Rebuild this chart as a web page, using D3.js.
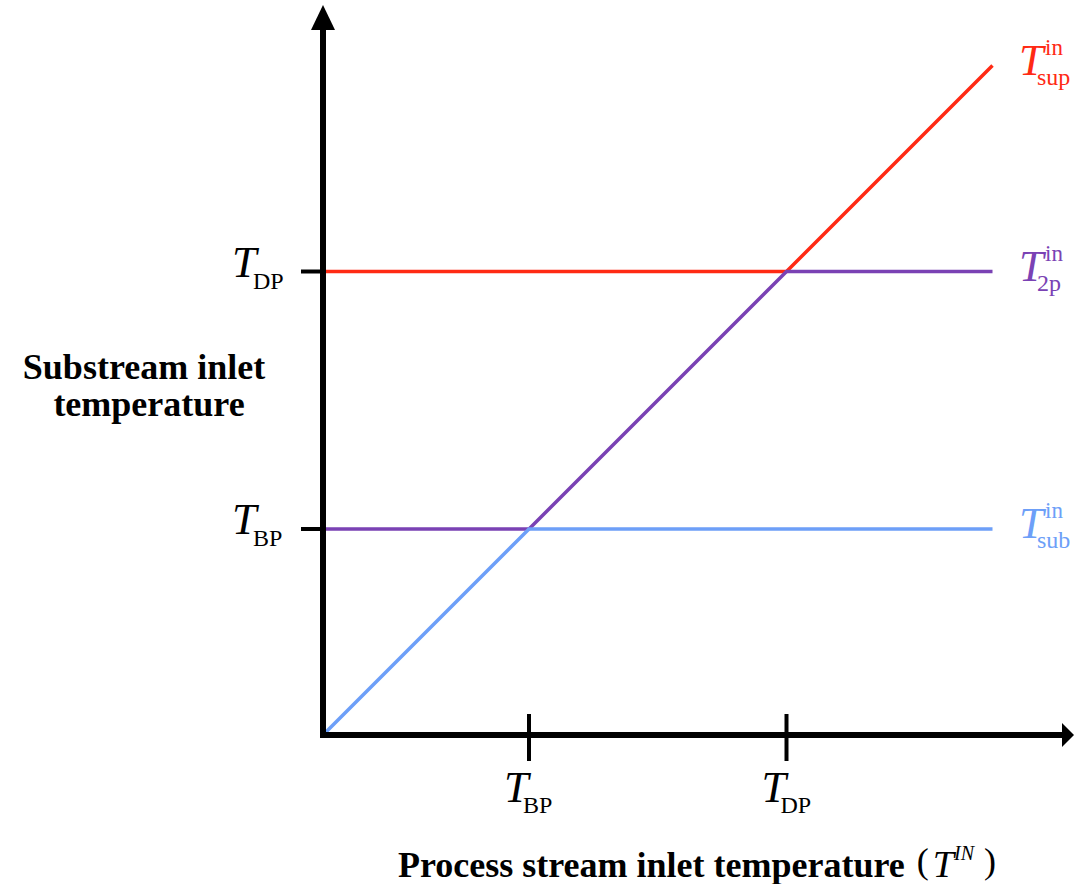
<!DOCTYPE html>
<html>
<head>
<meta charset="utf-8">
<script src="https://cdn.jsdelivr.net/npm/d3@7"></script>
<style>
  body { margin: 0; background: #fff; }
  text { font-family: "Liberation Serif", "Times New Roman", serif; }
</style>
</head>
<body>
<div class="chart"></div>
<script>
// process stream inlet temperature values (arbitrary units), T_BP and T_DP
const tickValues = [40, 90];
const tickNames = ["BP", "DP"];
const xMax = 130;

// substream inlet temperature vs process inlet temperature
const supLine = [[0, 90], [90, 90], [130, 130]];
const twoPLine = [[0, 40], [40, 40], [90, 90], [130, 90]];
const subLine = [[0, 0], [40, 40], [130, 40]];

const seriesNames = ["sup", "2p", "sub"];
const seriesEnds = [130, 90, 40];
const seriesColors = ["#ff2a14", "#7a42b4", "#6d9ff8"];

const width = 1074;
const height = 884;
const svg = d3.select('.chart')
    .append('svg')
    .attr('width', width)
    .attr('height', height);

const x0 = 323, y0 = 735;
const x = d3.scaleLinear().domain([0, xMax]).range([x0, 992.5]);
const y = d3.scaleLinear().domain([0, xMax]).range([y0, 65.5]);

// lines
const line = d3.line().x(d => x(d[0])).y(d => y(d[1]));
[supLine, twoPLine, subLine].forEach((d, i) => {
    svg.append('path')
        .attr('d', line(d))
        .attr('fill', 'none')
        .attr('stroke', seriesColors[i])
        .attr('stroke-width', 3.5);
});

// axes
svg.append('line')
    .attr('x1', x0).attr('y1', y0 + 3)
    .attr('x2', x0).attr('y2', 28)
    .attr('stroke', '#000').attr('stroke-width', 6);
svg.append('path')
    .attr('d', `M${x0 - 12},30 L${x0},5 L${x0 + 12},30 Z`)
    .attr('fill', '#000');
svg.append('line')
    .attr('x1', x0 - 3).attr('y1', y0)
    .attr('x2', 1064).attr('y2', y0)
    .attr('stroke', '#000').attr('stroke-width', 6);
svg.append('path')
    .attr('d', `M1062,${y0 - 12} L1074,${y0} L1062,${y0 + 12} Z`)
    .attr('fill', '#000');

// x ticks
svg.selectAll('.xtick')
    .data(tickValues)
    .enter()
    .append('line')
    .attr('class', 'xtick')
    .attr('x1', d => x(d)).attr('x2', d => x(d))
    .attr('y1', y0 - 21).attr('y2', y0 + 26)
    .attr('stroke', '#000').attr('stroke-width', 4);

// y ticks
svg.selectAll('.ytick')
    .data(tickValues)
    .enter()
    .append('line')
    .attr('class', 'ytick')
    .attr('x1', x0 - 22).attr('x2', x0)
    .attr('y1', d => y(d)).attr('y2', d => y(d))
    .attr('stroke', '#000').attr('stroke-width', 4);

// T with sub/superscript, each part its own text
function tLabel(px, py, sub, sup, color, subDx, subDy) {
    const g = svg.append('g').attr('fill', color);
    g.append('text').attr('x', px).attr('y', py)
        .attr('font-style', 'italic').attr('font-size', 44).text('T');
    if (sup) {
        g.append('text').attr('x', px + 26).attr('y', py - 20)
            .attr('font-size', 23).text(sup);
    }
    if (sub) {
        g.append('text').attr('x', px + subDx).attr('y', py + subDy)
            .attr('font-size', 24).text(sub);
    }
}

// x tick labels
tickValues.forEach((v, i) => {
    tLabel(x(v) - 25, 802, tickNames[i], null, '#000', 19, 11);
});
// y tick labels
tickValues.forEach((v, i) => {
    tLabel(232, y(v) + 5, tickNames[i], null, '#000', 21, 12);
});

// series labels at right
seriesNames.forEach((n, i) => {
    tLabel(1019, y(seriesEnds[i]) + 9, n, 'in', seriesColors[i], 18, 10);
});

// axis titles
svg.append('text')
    .attr('x', 144).attr('y', 379)
    .attr('text-anchor', 'middle')
    .attr('font-weight', 'bold').attr('font-size', 36)
    .text('Substream inlet');
svg.append('text')
    .attr('x', 149).attr('y', 416)
    .attr('text-anchor', 'middle')
    .attr('font-weight', 'bold').attr('font-size', 36)
    .text('temperature');

const xt = svg.append('text').attr('x', 398).attr('y', 877);
xt.append('tspan').attr('font-weight', 'bold').attr('font-size', 36)
    .text('Process stream inlet temperature');
xt.append('tspan').attr('font-size', 36).attr('dx', 12).attr('dy', -4).text('(');
xt.append('tspan').attr('font-size', 38).attr('font-style', 'italic').attr('dx', 4).attr('dy', 4).text('T');
xt.append('tspan').attr('font-size', 20).attr('font-style', 'italic').attr('dy', -17).text('IN');
xt.append('tspan').attr('font-size', 36).attr('dy', 13).attr('dx', 10).text(')');
</script>
</body>
</html>
